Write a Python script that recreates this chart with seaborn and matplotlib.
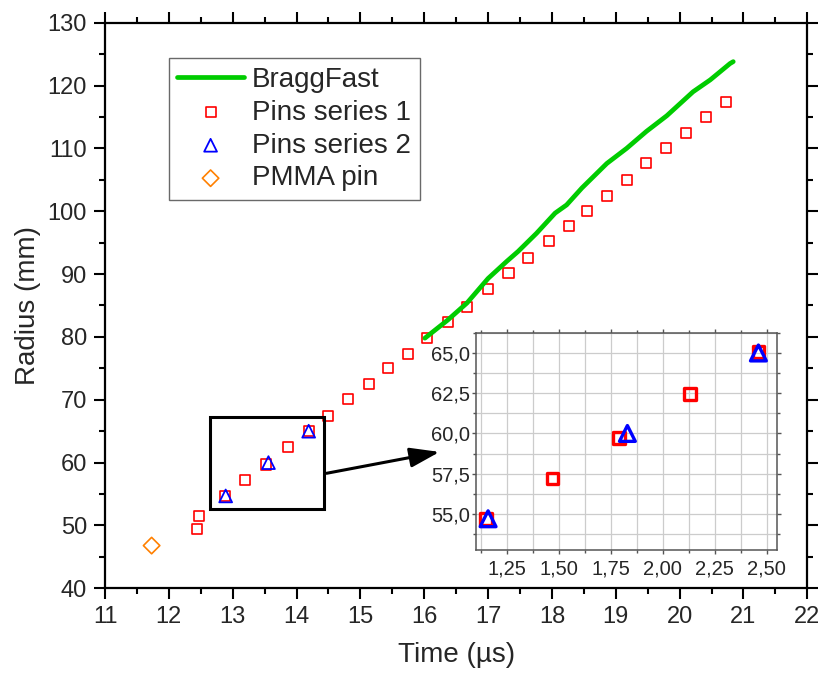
import matplotlib
matplotlib.use("Agg")
import numpy as np
import matplotlib.pyplot as plt
import matplotlib.patches as patches
from matplotlib.ticker import MultipleLocator, FuncFormatter
import seaborn as sns

sns.set_style("ticks")
plt.rcParams["font.family"] = ["Liberation Sans", "DejaVu Sans"]

# BraggFast trace
bragg_t = [16.01, 16.37, 16.67, 17.00, 17.29, 17.47, 17.76, 18.05, 18.23,
           18.47, 18.86, 19.17, 19.48, 19.80, 20.21, 20.48, 20.79, 20.84]
bragg_r = [79.8, 82.7, 85.4, 89.3, 92.0, 93.6, 96.5, 99.7, 101.0,
           103.7, 107.6, 110.0, 112.7, 115.2, 119.0, 120.9, 123.5, 123.8]

# Pins series 1
pins1_t = [12.44, 12.47, 12.88, 13.20, 13.52, 13.86, 14.19, 14.49, 14.81,
           15.13, 15.44, 15.75, 16.05, 16.37, 16.67, 17.00, 17.32, 17.62,
           17.95, 18.26, 18.55, 18.86, 19.17, 19.48, 19.79, 20.10, 20.41, 20.73]
pins1_r = [49.4, 51.5, 54.67, 57.19, 59.70, 62.45, 65.06, 67.4, 70.1,
           72.5, 75.0, 77.3, 79.9, 82.3, 84.8, 87.7, 90.1, 92.6,
           95.3, 97.7, 100.0, 102.5, 105.0, 107.7, 110.0, 112.5, 115.0, 117.4]

# Pins series 2
pins2_t = [12.89, 13.56, 14.19]
pins2_r = [54.7, 60.0, 65.0]

# PMMA pin (also the time origin of the inset)
pmma_t = [11.73]
pmma_r = [46.8]

red = "#ff0000"
blue = "#0000ff"
orange = "#ff8000"
green = "#00cc00"

fig = plt.figure(figsize=(8.21, 6.77), dpi=100)
ax = fig.add_axes([0.1279, 0.1310, 0.8554, 0.8355])

sns.scatterplot(x=pins1_t, y=pins1_r, marker="s", s=52, facecolor="none",
                edgecolor=red, linewidth=1.2, label="Pins series 1", ax=ax, zorder=3)
sns.scatterplot(x=pins2_t, y=pins2_r, marker="^", s=85, facecolor="none",
                edgecolor=blue, linewidth=1.3, label="Pins series 2", ax=ax, zorder=4)
sns.scatterplot(x=pmma_t, y=pmma_r, marker="D", s=70, facecolor="none",
                edgecolor=orange, linewidth=1.2, label="PMMA pin", ax=ax, zorder=3)
sns.lineplot(x=bragg_t, y=bragg_r, color=green, linewidth=3.4, label="BraggFast",
             ax=ax, zorder=5, sort=False)

ax.set_xlim(11, 22)
ax.set_ylim(40, 130)
ax.xaxis.set_major_locator(MultipleLocator(1))
ax.xaxis.set_minor_locator(MultipleLocator(0.5))
ax.yaxis.set_major_locator(MultipleLocator(10))
ax.yaxis.set_minor_locator(MultipleLocator(5))
ax.tick_params(which="major", direction="out", length=8, width=1.5,
               top=True, right=True, labelsize=17, pad=5, color="black")
ax.tick_params(which="minor", direction="out", length=4.5, width=1.5,
               top=True, right=True, color="black")
for sp in ax.spines.values():
    sp.set_visible(True)
    sp.set_linewidth(1.6)
    sp.set_color("black")
ax.set_xlabel("Time (µs)", fontsize=20, labelpad=10)
ax.set_ylabel("Radius (mm)", fontsize=20, labelpad=5)

# zoom box and arrow
ax.add_patch(patches.Rectangle((12.64, 52.57), 14.43 - 12.64, 67.21 - 52.57,
                               fill=False, edgecolor="black", linewidth=2.2, zorder=6))
ax.annotate("", xy=(16.24, 61.7), xytext=(14.47, 58.3),
            arrowprops=dict(arrowstyle="-|>,head_length=0.9,head_width=0.3",
                            color="black", lw=2.2, mutation_scale=20,
                            shrinkA=0, shrinkB=0), zorder=6)

handles, labels = ax.get_legend_handles_labels()
order = [labels.index(n) for n in ["BraggFast", "Pins series 1", "Pins series 2", "PMMA pin"]]
leg = ax.legend([handles[i] for i in order], [labels[i] for i in order],
                loc="upper left", bbox_to_anchor=(0.091, 0.937), borderaxespad=0,
                fontsize=20, frameon=True, fancybox=False, edgecolor="#444444",
                handlelength=2.4, handletextpad=0.3, labelspacing=0.25,
                borderpad=0.3)
leg.get_frame().set_linewidth(1.0)

# inset: time relative to the PMMA pin
t0 = pmma_t[0]
x_lo, x_hi = 12.8, 14.3
in1_t = [t - t0 for t in pins1_t if x_lo < t < x_hi]
in1_r = [r for t, r in zip(pins1_t, pins1_r) if x_lo < t < x_hi]
in2_t = [t - t0 for t in pins2_t if x_lo < t < x_hi]
in2_r = [r for t, r in zip(pins2_t, pins2_r) if x_lo < t < x_hi]

axin = fig.add_axes([0.5798, 0.1876, 0.3670, 0.3210])
axin.set_zorder(10)
axin.set_facecolor("white")
sns.scatterplot(x=in1_t, y=in1_r, marker="s", s=70, facecolor="none",
                edgecolor=red, linewidth=2.4, ax=axin, zorder=3)
sns.scatterplot(x=in2_t, y=in2_r, marker="^", s=130, facecolor="none",
                edgecolor=blue, linewidth=2.4, ax=axin, zorder=4)
axin.set_xlim(1.102, 2.551)
axin.set_ylim(52.76, 66.26)
axin.xaxis.set_major_locator(MultipleLocator(0.25))
axin.xaxis.set_minor_locator(MultipleLocator(0.125))
axin.yaxis.set_major_locator(MultipleLocator(2.5))
axin.yaxis.set_minor_locator(MultipleLocator(1.25))
axin.xaxis.set_major_formatter(FuncFormatter(lambda v, p: f"{v:.2f}".replace(".", ",")))
axin.yaxis.set_major_formatter(FuncFormatter(lambda v, p: f"{v:.1f}".replace(".", ",")))
axin.set_axisbelow(True)
axin.grid(which="both", color="#cccccc", linewidth=0.9)
axin.tick_params(which="major", direction="out", length=3, width=1, color="#555555",
                 top=True, right=True, labelsize=14.5)
axin.tick_params(which="minor", direction="out", length=2, width=1, color="#555555",
                 top=True, right=True)
axin.tick_params(axis="x", pad=4)
axin.tick_params(axis="y", pad=1.5)
for sp in axin.spines.values():
    sp.set_visible(True)
    sp.set_linewidth(1.1)
    sp.set_color("#555555")
axin.set_xlabel("")
axin.set_ylabel("")

fig.savefig("out.png", dpi=100)
